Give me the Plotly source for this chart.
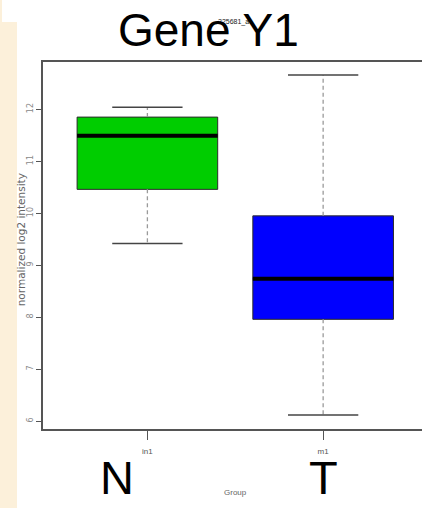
import plotly.graph_objects as go

# Summary statistics of expression per group (log2 scale)
groups = ["N", "T"]
tick_labels = ["in1", "m1"]
positions = [1, 2]
lower_whisker = [9.42, 6.12]
q1 = [10.46, 7.96]
median = [11.49, 8.74]
q3 = [11.85, 9.95]
upper_whisker = [12.04, 12.66]
y_ticks = [6, 7, 8, 9, 10, 11, 12]

fill_colors = ["#00CD00", "#0000FF"]
box_width = 0.8
cap_width = 0.4

fig = go.Figure()

for i, pos in enumerate(positions):
    # box body (quartiles only; whiskers are drawn separately as dashed lines)
    fig.add_trace(go.Box(
        x=[pos], q1=[q1[i]], median=[median[i]], q3=[q3[i]],
        lowerfence=[q1[i]], upperfence=[q3[i]],
        width=box_width, whiskerwidth=0,
        fillcolor=fill_colors[i],
        line=dict(color="#2a2a2a", width=1),
        boxpoints=False, hoverinfo="skip", showlegend=False,
    ))
    # dashed whiskers
    fig.add_trace(go.Scatter(
        x=[pos, pos, None, pos, pos],
        y=[q3[i], upper_whisker[i], None, q1[i], lower_whisker[i]],
        mode="lines", line=dict(color="#9a9a9a", width=1.3, dash="4px,3px"),
        hoverinfo="skip", showlegend=False,
    ))
    # whisker caps
    half = cap_width / 2
    fig.add_trace(go.Scatter(
        x=[pos - half, pos + half, None, pos - half, pos + half],
        y=[upper_whisker[i], upper_whisker[i], None, lower_whisker[i], lower_whisker[i]],
        mode="lines", line=dict(color="#444444", width=1.5),
        hoverinfo="skip", showlegend=False,
    ))
    # thick median bar
    hb = box_width / 2
    fig.add_trace(go.Scatter(
        x=[pos - hb, pos + hb], y=[median[i], median[i]],
        mode="lines", line=dict(color="#000000", width=4),
        hoverinfo="skip", showlegend=False,
    ))

fig.update_layout(
    width=422, height=508,
    margin=dict(l=43, r=0, t=62, b=79),
    paper_bgcolor="white", plot_bgcolor="white",
    font=dict(family="Arial, Liberation Sans, sans-serif"),
    xaxis=dict(
        range=[0.406, 2.5625], tickmode="array", tickvals=positions,
        ticktext=tick_labels, ticks="outside", ticklen=9, tickcolor="#555",
        tickfont=dict(size=8, color="#555"), ticklabelstandoff=5,
        showline=True, linecolor="#555", linewidth=1.5, mirror=True,
        showgrid=False, zeroline=False,
    ),
    yaxis=dict(
        range=[5.85, 12.91], tickmode="array", tickvals=y_ticks,
        ticks="outside", ticklen=5, tickcolor="#555", tickangle=-90,
        tickfont=dict(size=8, color="#888", family="DejaVu Sans"),
        showline=True, linecolor="#555", linewidth=1.5,
        showgrid=False, zeroline=False,
    ),
    shapes=[
        dict(type="rect", xref="paper", yref="paper",
             x0=-43 / 379, x1=-26 / 379, y0=-79 / 367, y1=(367 + 62 - 22) / 367,
             fillcolor="#FCF0DA", line=dict(width=0), layer="below"),
        dict(type="rect", xref="paper", yref="paper",
             x0=-43 / 379, x1=-41 / 379, y0=(367 + 62 - 22) / 367, y1=(367 + 62) / 367,
             fillcolor="#FCF0DA", line=dict(width=0), layer="below"),
    ],
    annotations=[
        dict(text="225681_at", xref="paper", yref="paper",
             x=(234 - 43) / 379, y=(367 + 62 - 22) / 367,
             showarrow=False, font=dict(size=7, color="#222"),
             xanchor="center", yanchor="middle"),
        dict(text="Gene Y1", xref="paper", yref="paper",
             x=(208 - 43) / 379, y=(367 + 62 - 30) / 367,
             showarrow=False, font=dict(size=46, color="#000"),
             xanchor="center", yanchor="middle"),
        dict(text="normalized log2 intensity", xref="paper", yref="paper",
             x=(21 - 43) / 379, y=(428.7 - 240) / 367, textangle=-90,
             showarrow=False, font=dict(size=10.5, color="#666", family="DejaVu Sans"),
             xanchor="center", yanchor="middle"),
        dict(text=groups[0], xref="paper", yref="paper",
             x=(117 - 43) / 379, y=-(477 - 428.7) / 367,
             showarrow=False, font=dict(size=47, color="#000"),
             xanchor="center", yanchor="middle"),
        dict(text=groups[1], xref="paper", yref="paper",
             x=(323 - 43) / 379, y=-(477 - 428.7) / 367,
             showarrow=False, font=dict(size=47, color="#000"),
             xanchor="center", yanchor="middle"),
        dict(text="Group", xref="paper", yref="paper",
             x=(235 - 43) / 379, y=-(492 - 428.7) / 367,
             showarrow=False, font=dict(size=8, color="#666"),
             xanchor="center", yanchor="middle"),
    ],
)

fig.write_html("out.html")
